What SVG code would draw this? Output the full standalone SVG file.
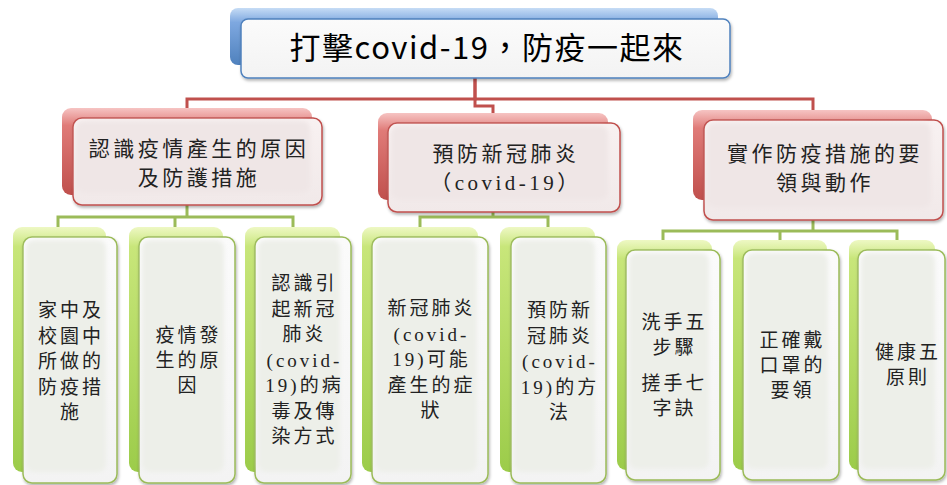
<svg xmlns="http://www.w3.org/2000/svg" width="947" height="485" viewBox="0 0 947 485">
<defs>
<linearGradient id="gBlue" x1="0" y1="0" x2="0" y2="1">
<stop offset="0" stop-color="#c6dcf5"/><stop offset="0.25" stop-color="#7ea8e0"/><stop offset="1" stop-color="#4f81bd"/>
</linearGradient>
<linearGradient id="gRed" x1="0" y1="0" x2="0" y2="1">
<stop offset="0" stop-color="#f6c4c3"/><stop offset="0.2" stop-color="#e07b78"/><stop offset="1" stop-color="#c0504d"/>
</linearGradient>
<linearGradient id="gGreen" x1="0" y1="0" x2="0" y2="1">
<stop offset="0" stop-color="#eef8c4"/><stop offset="0.08" stop-color="#c8e67a"/><stop offset="1" stop-color="#9ccc4a"/>
</linearGradient>
<linearGradient id="gFront" x1="0" y1="0" x2="0" y2="1">
<stop offset="0" stop-color="#fbfbfb"/><stop offset="1" stop-color="#f3f3f3"/>
</linearGradient>
<linearGradient id="gPink" x1="0" y1="0" x2="0" y2="1">
<stop offset="0" stop-color="#f8f1f1"/><stop offset="1" stop-color="#f1e9e9"/>
</linearGradient>
<filter id="sh" x="-10%" y="-10%" width="130%" height="130%">
<feDropShadow dx="1" dy="2" stdDeviation="1.5" flood-color="#000" flood-opacity="0.3"/>
</filter>
<filter id="soft" x="-10%" y="-10%" width="120%" height="120%">
<feGaussianBlur stdDeviation="2"/>
</filter>
</defs>
<style>
.bb{fill:url(#gBlue)}
.br{fill:url(#gRed)}
.bg{fill:url(#gGreen)}
.fb{fill:url(#gFront);stroke:#4f81bd;stroke-width:1.5;filter:url(#sh)}
.fr{fill:url(#gPink);stroke:#c0504d;stroke-width:1.5;filter:url(#sh)}
.fg{fill:url(#gFront);stroke:#9bbb59;stroke-width:1.5;filter:url(#sh)}
.in{fill:#edefe9;filter:url(#soft)}
.inr{fill:#efe6e6;filter:url(#soft)}
.cr{fill:none;stroke:#c0504d;stroke-width:3}
.cg{fill:none;stroke:#9bbb59;stroke-width:3}
.t0{font-family:"Noto Sans CJK TC","Noto Sans",sans-serif;font-size:31px;font-weight:400;letter-spacing:1.5px;fill:#000;text-anchor:middle}
.t1{font-family:"Liberation Serif","Noto Sans CJK TC",serif;font-size:21px;letter-spacing:3.5px;fill:#222;text-anchor:middle}
.t2{font-family:"Liberation Serif","Noto Sans CJK TC",serif;font-size:19px;letter-spacing:3px;fill:#222;text-anchor:middle}
</style>

<g id="connectors">
<path class="cr" d="M475,78 V99 H187 V108"/>
<path class="cr" d="M475,78 V106 H493 V113"/>
<path class="cr" d="M475,99 H813 V110"/>
<path class="cg" d="M187,205 V217 M58,227 V217 H293 V227 M175,217 V227"/>
<path class="cg" d="M493,212 V217 M420,227 V217 H548 V227"/>
<path class="cg" d="M813,220 V231 M663,240 V231 H897 V240 M780,231 V240"/>
</g>

<g id="root">
<rect class="bb" x="230" y="8" width="488" height="57" rx="8"/>
<rect class="fb" x="241" y="19" width="489" height="59" rx="7"/>
<text class="t0" x="487" y="59">打擊covid-19，防疫一起來</text>
</g>

<g id="n1">
<rect class="br" x="62" y="108" width="250" height="87" rx="9"/>
<rect class="fr" x="73" y="118" width="249" height="87" rx="9"/>
<rect class="inr" x="76" y="121" width="234" height="72" rx="8"/>
<text class="t1" x="199" y="156">認識疫情產生的原因</text>
<text class="t1" x="199" y="185">及防護措施</text>
</g>

<g id="n2">
<rect class="br" x="378" y="113" width="230" height="87" rx="9"/>
<rect class="fr" x="388" y="123" width="232" height="89" rx="9"/>
<rect class="inr" x="391" y="126" width="217" height="74" rx="8"/>
<text class="t1" x="506" y="161">預防新冠肺炎</text>
<text class="t1" x="506" y="190">（covid-19）</text>
</g>

<g id="n3">
<rect class="br" x="693" y="110" width="239" height="90" rx="9"/>
<rect class="fr" x="704" y="120" width="239" height="100" rx="9"/>
<rect class="inr" x="707" y="123" width="224" height="85" rx="8"/>
<text class="t1" x="825" y="161">實作防疫措施的要</text>
<text class="t1" x="825" y="190">領與動作</text>
</g>

<g id="c1">
<rect class="bg" x="13" y="227" width="93" height="245" rx="9"/>
<rect class="fg" x="23" y="237" width="94" height="246" rx="9"/>
<rect class="in" x="26" y="240" width="80" height="232" rx="8"/>
<text class="t2" x="71" y="317">家中及</text>
<text class="t2" x="71" y="342.5">校園中</text>
<text class="t2" x="71" y="368">所做的</text>
<text class="t2" x="71" y="393.5">防疫措</text>
<text class="t2" x="71" y="419">施</text>
</g>

<g id="c2">
<rect class="bg" x="129" y="227" width="94" height="245" rx="9"/>
<rect class="fg" x="139" y="237" width="96" height="246" rx="9"/>
<rect class="in" x="142" y="240" width="82" height="232" rx="8"/>
<text class="t2" x="188.5" y="342">疫情發</text>
<text class="t2" x="188.5" y="367">生的原</text>
<text class="t2" x="188.5" y="392">因</text>
</g>

<g id="c3">
<rect class="bg" x="245" y="227" width="95" height="245" rx="9"/>
<rect class="fg" x="255" y="237" width="96" height="246" rx="9"/>
<rect class="in" x="258" y="240" width="82" height="232" rx="8"/>
<text class="t2" x="304.5" y="290">認識引</text>
<text class="t2" x="304.5" y="315.5">起新冠</text>
<text class="t2" x="304.5" y="341">肺炎</text>
<text class="t2" x="304.5" y="366.5">(covid-</text>
<text class="t2" x="304.5" y="392">19)的病</text>
<text class="t2" x="304.5" y="417.5">毒及傳</text>
<text class="t2" x="304.5" y="443">染方式</text>
</g>

<g id="c4">
<rect class="bg" x="362" y="227" width="116" height="245" rx="9"/>
<rect class="fg" x="372" y="237" width="116" height="246" rx="9"/>
<rect class="in" x="375" y="240" width="102" height="232" rx="8"/>
<text class="t2" x="431.5" y="315">新冠肺炎</text>
<text class="t2" x="431.5" y="340.5">(covid-</text>
<text class="t2" x="431.5" y="366">19)可能</text>
<text class="t2" x="431.5" y="391.5">產生的症</text>
<text class="t2" x="431.5" y="417">狀</text>
</g>

<g id="c5">
<rect class="bg" x="500" y="227" width="95" height="245" rx="9"/>
<rect class="fg" x="511" y="237" width="95" height="246" rx="9"/>
<rect class="in" x="514" y="240" width="81" height="232" rx="8"/>
<text class="t2" x="560" y="317">預防新</text>
<text class="t2" x="560" y="342.5">冠肺炎</text>
<text class="t2" x="560" y="368">(covid-</text>
<text class="t2" x="560" y="393.5">19)的方</text>
<text class="t2" x="560" y="419">法</text>
</g>

<g id="c6">
<rect class="bg" x="617" y="240" width="95" height="230" rx="9"/>
<rect class="fg" x="626" y="250" width="94" height="230" rx="9"/>
<rect class="in" x="629" y="253" width="80" height="216" rx="8"/>
<text class="t2" x="674.5" y="329">洗手五</text>
<text class="t2" x="674.5" y="354">步驟</text>
<text class="t2" x="674.5" y="390">搓手七</text>
<text class="t2" x="674.5" y="415">字訣</text>
</g>

<g id="c7">
<rect class="bg" x="733" y="240" width="94" height="230" rx="9"/>
<rect class="fg" x="743" y="250" width="96" height="230" rx="9"/>
<rect class="in" x="746" y="253" width="82" height="216" rx="8"/>
<text class="t2" x="792.5" y="347">正確戴</text>
<text class="t2" x="792.5" y="372">口罩的</text>
<text class="t2" x="792.5" y="397">要領</text>
</g>

<g id="c8">
<rect class="bg" x="849" y="240" width="86" height="230" rx="9"/>
<rect class="fg" x="858" y="250" width="87" height="230" rx="9"/>
<rect class="in" x="861" y="253" width="74" height="216" rx="8"/>
<text class="t2" x="908" y="359">健康五</text>
<text class="t2" x="908" y="384">原則</text>
</g>
</svg>
